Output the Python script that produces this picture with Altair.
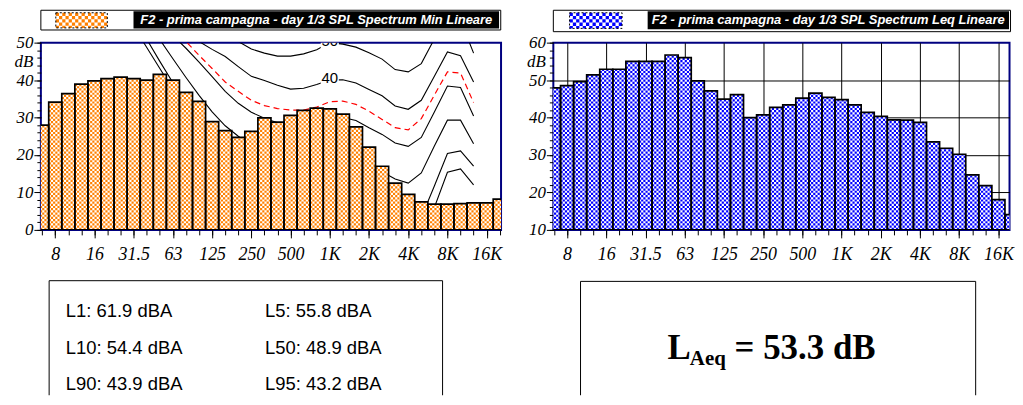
import altair as alt
import pandas as pd

# ---------------- data ----------------
band_index = list(range(36))                      # 1/3-octave bands, 0 = 6.3 Hz ... 35 = 20 kHz
tick_index = [1, 4, 7, 10, 13, 16, 19, 22, 25, 28, 31, 34]
tick_labels = ["8", "16", "31.5", "63", "125", "250", "500", "1K", "2K", "4K", "8K", "16K"]

spl_min = [28.0, 34.1, 36.4, 38.9, 39.8, 40.4, 40.8, 40.4, 40.0, 41.5, 40.0, 36.7,
           34.3, 28.9, 26.5, 24.7, 26.3, 29.9, 28.8, 30.6, 31.9, 32.5, 32.3, 30.9,
           27.5, 22.1, 17.0, 12.5, 9.5, 7.5, 6.9, 6.9, 7.0, 7.2, 7.2, 8.2]
spl_leq = [47.9, 48.5, 49.6, 51.4, 52.9, 52.9, 55.0, 55.0, 55.0, 56.7, 56.0, 49.8,
           47.1, 44.9, 46.1, 40.0, 40.7, 42.7, 43.4, 45.2, 46.5, 45.4, 44.8, 43.4,
           41.4, 40.3, 39.4, 39.3, 38.7, 33.5, 31.8, 30.2, 24.7, 21.8, 18.1, 14.1]

# equal-loudness contours on the Min panel: first band index + values
phon50_start = 13
phon50 = [55.5, 52.5, 50.3, 48.3, 47.2, 46.4, 46.4, 47.0, 48.1, 50.0, 49.6, 48.8,
          47.3, 45.6, 42.8, 42.2, 44.4, 51.0, 57.0, 56.0, 47.2]
phon40_start = 11
phon40 = [53.5, 50.3, 48.2, 46.3, 43.6, 41.0, 39.9, 38.6, 37.6, 37.8, 38.8, 40.0,
          40.1, 39.2, 37.5, 35.8, 33.1, 32.2, 34.6, 41.0, 47.5, 46.5, 39.5]
red_start = 10
red_curve = [53.5, 50.3, 46.6, 43.1, 39.5, 37.0, 34.6, 33.2, 32.4, 32.0, 32.0, 32.8,
             34.2, 34.4, 33.5, 31.7, 29.5, 27.3, 26.7, 29.7, 36.0, 42.2, 41.9, 34.0]
phon30_start = 9
phon30 = [55.5, 51.9, 48.5, 44.8, 40.9, 37.0, 33.8, 31.4, 29.8, 28.6, 28.3, 28.6,
          29.2, 30.0, 30.0, 29.2, 27.3, 25.5, 23.2, 22.3, 24.7, 31.5, 38.4, 38.0, 30.4]
phon20_start = 8
phon20 = [56.0, 50.8, 45.7, 40.7, 35.9, 31.5, 27.8, 25.0, 22.5, 21.0, 20.0, 19.5,
          19.5, 19.8, 20.0, 20.0, 19.0, 17.5, 15.5, 13.6, 12.5, 15.2, 22.4, 29.3, 29.3, 23.0]
phon10_start = 7
phon10 = [56.8, 50.9, 45.0, 39.3, 34.0, 29.5, 25.5, 22.0, 19.0, 16.5, 14.5, 13.0,
          11.5, 10.5, 10.0, 10.0, 10.0, 9.5, 8.5, 6.5, 4.5, 3.5, 3.3, 11.7, 20.4, 21.1, 17.0]
thr_start = 7
thr = [54.3, 48.7, 43.1, 37.5, 32.5, 28.0, 24.0, 20.5, 17.5, 15.0, 13.0, 11.5,
       10.0, 9.0, 8.5, 8.0, 8.0, 7.0, 5.5, 3.5, 2.5, 2.0, 2.5, 6.0, 15.4, 16.3, 12.0]
contour_label_band = 22
contour_labels = ["50", "40", "30"]

stats_col1 = ["L1: 61.9 dBA", "L10: 54.4 dBA", "L90: 43.9 dBA"]
stats_col2 = ["L5: 55.8 dBA", "L50: 48.9 dBA", "L95: 43.2 dBA"]
laeq_main, laeq_sub, laeq_value = "L", "Aeq", "= 53.3 dB"
legend_min = "F2 - prima campagna - day 1/3 SPL Spectrum Min Lineare"
legend_leq = "F2 - prima campagna - day 1/3 SPL Spectrum Leq Lineare"

# ---------------- style / layout ----------------
SERIF = "Liberation Serif"
SANS = "Liberation Sans"
ORANGE, BLUE = "#FF8000", "#0000FF"
H = 188
WL, WR = 462, 458
XDOM_L, XDOM_R = [-0.1, 35.1], [-0.05, 34.85]
YDOM_L, YDOM_R = [0, 50], [10, 60]
NCOL = 6

one = pd.DataFrame({"z": [0]})


def prect(x, x2, y, y2, **kw):
    return alt.Chart(one).mark_rect(**kw).encode(
        x=alt.value(x), x2=alt.value(x2), y=alt.value(y), y2=alt.value(y2))


def hrule(x, x2, y, **kw):
    return alt.Chart(one).mark_rule(**kw).encode(x=alt.value(x), x2=alt.value(x2), y=alt.value(y))


def vrule(x, y, y2, **kw):
    return alt.Chart(one).mark_rule(**kw).encode(x=alt.value(x), y=alt.value(y), y2=alt.value(y2))


def ptext(x, y, text, **kw):
    return alt.Chart(one).mark_text(text=text, **kw).encode(x=alt.value(x), y=alt.value(y))


LAB_EXPR = "[" + ",".join("'%s'" % t for t in tick_labels) + "][round((datum.value - 1) / 3)]"


def x_major():
    return alt.Axis(orient="bottom", values=tick_index, labelExpr=LAB_EXPR, tickSize=8,
                    tickColor="black", tickWidth=1, labelPadding=8, labelFont=SERIF,
                    labelFontStyle="italic", labelFontSize=18, labelColor="black",
                    labelOverlap=False, labelFlush=False, domain=False, grid=False, title=None)


def x_minor(vals):
    return alt.Axis(orient="bottom", values=vals, tickSize=5, tickColor="black", tickWidth=1,
                    labels=False, domain=False, grid=False, title=None)


def y_major(vals, dbv):
    return alt.Axis(orient="left", values=vals,
                    labelExpr="datum.value == %s ? 'dB' : datum.label" % dbv,
                    tickSize=7, tickColor="black", tickWidth=1,
                    tickOpacity={"condition": {"test": "datum.value == %s" % dbv, "value": 0}, "value": 1},
                    labelPadding=1, labelFont=SERIF, labelFontStyle="italic", labelFontSize=17,
                    labelColor="black", labelOverlap=False, labelFlush=False,
                    domain=False, grid=False, title=None)


def y_minor(vals):
    return alt.Axis(orient="left", values=vals, tickSize=4, tickColor="black", tickWidth=1,
                    labels=False, domain=False, grid=False, title=None)


def swatch(px0, px1, py0, py1, color, xs, xdom, width, ncols=16):
    cw = (px1 - px0) / ncols
    ppu = width / (xdom[1] - xdom[0])
    layers = [prect(px0, px1, py0, py1, color="white")]
    for parity in (0, 1):
        layers.append(
            alt.Chart(one)
            .transform_calculate(k="sequence(0, %d)" % ncols)
            .transform_flatten(["k"])
            .transform_filter("datum.k %% 2 == %d" % parity)
            .transform_calculate(xc="%s + (%s + (datum.k + 0.5) * %s) / %s" % (xdom[0], px0, cw, ppu))
            .mark_rule(color=color, strokeWidth=cw, strokeDash=[cw, cw], strokeDashOffset=cw * parity)
            .encode(x=alt.X("xc:Q", scale=xs, axis=None), y=alt.value(py0), y2=alt.value(py1))
        )
    layers.append(prect(px0, px1, py0, py1, filled=False, color="black", strokeWidth=1, strokeDash=[2, 2]))
    return layers


def bar_layers(values, xs, ys, ydom, color, minor_x, major_y, dbv, grid):
    df = pd.DataFrame({"i": band_index, "v": values})
    base = alt.Chart(df).transform_calculate(x0="datum.i - 0.5", x1="datum.i + 0.5", b=str(ydom[0]))
    under = base.mark_rect(color="white", clip=True).encode(
        x=alt.X("x0:Q", scale=xs, axis=x_minor(minor_x)), x2="x1:Q",
        y=alt.Y("b:Q", scale=ys, axis=y_minor(list(range(ydom[0], ydom[1] + 1, 2)))), y2="v:Q")
    cw = 13.12 / NCOL
    checks = []
    for parity in (0, 1):
        if grid and parity == 0:
            ax_x = alt.Axis(orient="bottom", values=tick_index, grid=True, gridColor="black",
                            gridWidth=1, gridOpacity=1, ticks=False, labels=False, domain=False, title=None)
            ax_y = alt.Axis(orient="left", values=list(range(ydom[0] + 10, ydom[1], 10)), grid=True,
                            gridColor="black", gridWidth=1, gridOpacity=1, ticks=False, labels=False,
                            domain=False, title=None)
        else:
            ax_x = None
            ax_y = None
        checks.append(
            base.transform_calculate(k="[0,1,2,3,4,5]")
            .transform_flatten(["k"])
            .transform_filter("datum.k %% 2 == %d" % parity)
            .transform_calculate(xc="datum.i - 0.5 + (datum.k + 0.5) / %d" % NCOL)
            .mark_rule(color=color, strokeWidth=cw, strokeDash=[cw, cw], strokeDashOffset=cw * parity, clip=True)
            .encode(x=alt.X("xc:Q", scale=xs, axis=ax_x), y=alt.Y("b:Q", scale=ys, axis=ax_y), y2="v:Q")
        )
    outline = base.mark_rect(filled=False, color="black", strokeWidth=1.7, clip=True).encode(
        x=alt.X("x0:Q", scale=xs, axis=x_major()), x2="x1:Q",
        y=alt.Y("b:Q", scale=ys, axis=y_major(major_y, dbv)), y2="v:Q")
    return [under] + checks + [outline]


# ---------------- left panel (Min + contours) ----------------
xsL = alt.Scale(domain=XDOM_L, nice=False, zero=False)
ysL = alt.Scale(domain=YDOM_L, nice=False, zero=False)

curves = [("50", phon50_start, phon50), ("40", phon40_start, phon40), ("30", phon30_start, phon30),
          ("20", phon20_start, phon20), ("10", phon10_start, phon10), ("thr", thr_start, thr)]
cdf = pd.DataFrame([{"name": n, "i": s + k, "v": val} for n, s, vals in curves for k, val in enumerate(vals)])
rdf = pd.DataFrame({"i": [red_start + k for k in range(len(red_curve))], "v": red_curve})
ldf = pd.DataFrame({"i": [contour_label_band] * len(contour_labels),
                    "v": [float(t) for t in contour_labels], "t": contour_labels})

black_lines = alt.Chart(cdf).mark_line(color="black", strokeWidth=1.1, clip=True).encode(
    x=alt.X("i:Q", scale=xsL, axis=None), y=alt.Y("v:Q", scale=ysL, axis=None),
    detail="name:N", order="i:Q")
red_line = alt.Chart(rdf).mark_line(color="#FF0000", strokeWidth=1.2, strokeDash=[6, 4], clip=True).encode(
    x=alt.X("i:Q", scale=xsL, axis=None), y=alt.Y("v:Q", scale=ysL, axis=None), order="i:Q")
lab_bg = alt.Chart(ldf).mark_square(size=330, color="white", opacity=1, yOffset=-2, clip=True).encode(
    x=alt.X("i:Q", scale=xsL, axis=None), y=alt.Y("v:Q", scale=ysL, axis=None))
lab_tx = alt.Chart(ldf).mark_text(font=SANS, fontSize=15, color="black", dy=-2, clip=True).encode(
    x=alt.X("i:Q", scale=xsL, axis=None), y=alt.Y("v:Q", scale=ysL, axis=None), text="t:N")

left_layers = [vrule(-31.5, 0, 10, color="white"), vrule(466, 0, 10, color="white"),
               black_lines, red_line, lab_bg, lab_tx]
left_layers += bar_layers(spl_min, xsL, ysL, YDOM_L, ORANGE, band_index,
                          [0, 10, 20, 30, 40, 45, 50], 45, False)
left_layers += [prect(0, 461.7, -32.5, -12.7, color="white", stroke="black", strokeWidth=1)]
left_layers += swatch(15, 66.7, -30, -14.8, ORANGE, xsL, XDOM_L, WL)
left_layers += [prect(93, 460, -31.5, -14.3, color="black"),
                ptext(276.5, -22.9, legend_min, font=SANS, fontSize=13, fontWeight="bold",
                      fontStyle="italic", color="white", align="center", baseline="middle")]
left_layers += [hrule(8.3, 403.3, 239, color="black", strokeWidth=1),
                vrule(8.3, 239, 354, color="black", strokeWidth=1),
                vrule(403.3, 239, 354, color="black", strokeWidth=1)]
for r, (a, b) in enumerate(zip(stats_col1, stats_col2)):
    yb = 275.7 + r * 36.65
    left_layers.append(ptext(25, yb, a, font=SANS, fontSize=18.5, color="black", align="left", baseline="alphabetic"))
    left_layers.append(ptext(225, yb, b, font=SANS, fontSize=18.5, color="black", align="left", baseline="alphabetic"))

left = alt.layer(*left_layers).properties(width=WL, height=H).resolve_axis(x="independent", y="independent")

# ---------------- right panel (Leq) ----------------
xsR = alt.Scale(domain=XDOM_R, nice=False, zero=False)
ysR = alt.Scale(domain=YDOM_R, nice=False, zero=False)

right_layers = [vrule(-31.5, 0, 10, color="white")]
right_layers += bar_layers(spl_leq, xsR, ysR, YDOM_R, BLUE, band_index[:35],
                           [10, 20, 30, 40, 50, 55, 60], 55, True)
right_layers += [prect(0, 459, -32.5, -11, color="white", stroke="black", strokeWidth=1)]
right_layers += swatch(16.3, 69, -30, -14.3, BLUE, xsR, XDOM_R, WR)
right_layers += [prect(94.7, 457.5, -31.5, -13.5, color="black"),
                 ptext(276, -22.5, legend_leq, font=SANS, fontSize=13, fontWeight="bold",
                       fontStyle="italic", color="white", align="center", baseline="middle")]
right_layers += [hrule(27.3, 424, 239.7, color="black", strokeWidth=1),
                 vrule(27.3, 239.7, 354, color="black", strokeWidth=1),
                 vrule(424, 239.7, 354, color="black", strokeWidth=1)]
right_layers += [
    ptext(114.7, 317.3, laeq_main, font=SERIF, fontSize=35, fontWeight="bold", color="black",
          align="left", baseline="alphabetic"),
    ptext(137, 324, laeq_sub, font=SERIF, fontSize=21, fontWeight="bold", color="black",
          align="left", baseline="alphabetic"),
    ptext(182, 317.3, laeq_value, font=SERIF, fontSize=35, fontWeight="bold", color="black",
          align="left", baseline="alphabetic"),
]

right = alt.layer(*right_layers).properties(width=WR, height=H).resolve_axis(x="independent", y="independent")

chart = (
    alt.hconcat(left, right, spacing=13.5)
    .properties(padding=0, background="white")
    .configure_view(stroke="#000080", strokeWidth=2)
)

chart.save("out.html", embed_options={"renderer": "svg", "actions": False})
